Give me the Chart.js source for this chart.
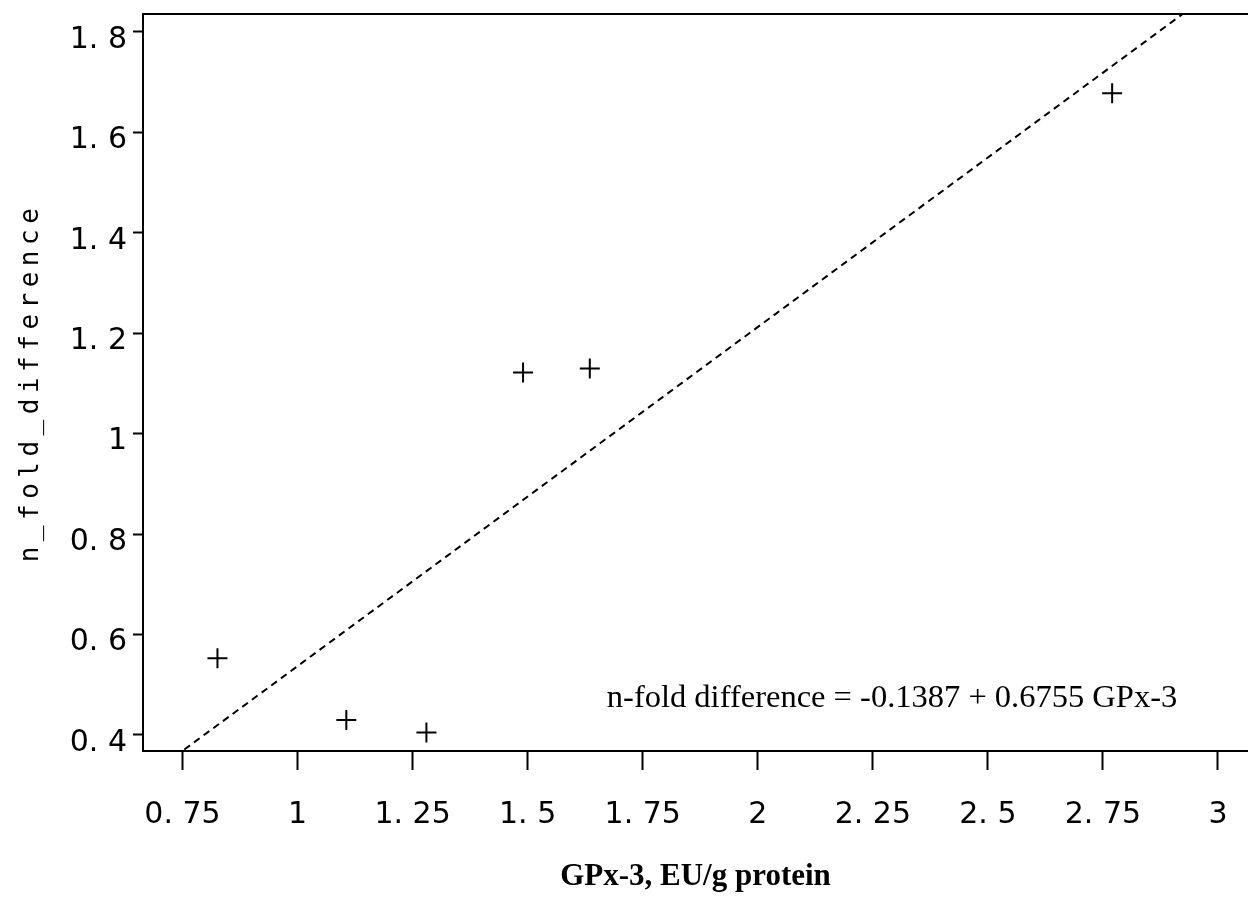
<!DOCTYPE html>
<html>
<head>
<meta charset="utf-8">
<script src="https://cdn.jsdelivr.net/npm/chart.js@4.4.1/dist/chart.umd.min.js"></script>
<style>
  body { margin: 0; background: #fff; }
  #wrap { width: 1248px; height: 897px; }
</style>
</head>
<body>
<div id="wrap"><canvas id="scatterChart"></canvas></div>
<script>
// data
const gpx3 = [0.826, 1.106, 1.280, 1.490, 1.635, 2.770];
const foldDiff = [0.553, 0.430, 0.405, 1.122, 1.130, 1.678];

// fitted line, end points as drawn
const fitX = [0.754, 2.922];
const fitY = [0.371, 1.835];

const xTickValues = [0.75, 1, 1.25, 1.5, 1.75, 2, 2.25, 2.5, 2.75, 3];
const xTickLabels = ["0. 75", "1", "1. 25", "1. 5", "1. 75", "2", "2. 25", "2. 5", "2. 75", "3"];
const yTickValues = [0.4, 0.6, 0.8, 1, 1.2, 1.4, 1.6, 1.8];
const yTickLabels = ["0. 4", "0. 6", "0. 8", "1", "1. 2", "1. 4", "1. 6", "1. 8"];

const yTitle = "n_fold_difference";
const xTitle = "GPx-3, EU/g protein";
const fitLabel = "n-fold difference = -0.1387 + 0.6755 GPx-3";
const fitLabelAt = [1.672, 0.456];

const tickFont = { family: "'DejaVu Sans', sans-serif", size: 30 };

// keep the plot box where the original has it, no extra room for labels
function noPadding(scale) {
    scale.paddingTop = 0;
    scale.paddingBottom = 0;
    scale.paddingLeft = 0;
    scale.paddingRight = 0;
}

// y title is letter spaced like the original, so draw it by hand
const yTitlePlugin = {
    id: "yTitle",
    afterDraw(chart) {
        const ctx = chart.ctx;
        const area = chart.chartArea;
        ctx.save();
        ctx.translate(31, (area.top + area.bottom) / 2);
        ctx.rotate(-Math.PI / 2);
        ctx.font = "26px 'DejaVu Sans Mono', monospace";
        ctx.letterSpacing = "5.5px";
        ctx.fillStyle = "#000";
        ctx.textAlign = "center";
        ctx.textBaseline = "middle";
        ctx.fillText(yTitle, 0, 0);
        ctx.restore();
    }
};

// equation text inside the plot
const fitLabelPlugin = {
    id: "fitLabel",
    afterDatasetsDraw(chart) {
        const ctx = chart.ctx;
        const x = chart.scales.x.getPixelForValue(fitLabelAt[0]);
        const y = chart.scales.y.getPixelForValue(fitLabelAt[1]);
        ctx.save();
        ctx.font = "32.5px 'Liberation Serif', 'Times New Roman', serif";
        ctx.fillStyle = "#000";
        ctx.textAlign = "left";
        ctx.textBaseline = "alphabetic";
        ctx.fillText(fitLabel, x, y);
        ctx.restore();
    }
};

const chartCanvas = document.getElementById("scatterChart");

new Chart(chartCanvas, {
    type: "scatter",
    data: {
        datasets: [
            {
                label: "observed",
                data: gpx3.map((v, i) => ({ x: v, y: foldDiff[i] })),
                pointStyle: "cross",
                pointRadius: 10,
                pointHoverRadius: 10,
                borderColor: "#000",
                backgroundColor: "#000",
                borderWidth: 2
            },
            {
                label: "fit",
                type: "line",
                data: fitX.map((v, i) => ({ x: v, y: fitY[i] })),
                borderColor: "#000",
                borderWidth: 2,
                borderDash: [7, 5],
                pointRadius: 0,
                fill: false
            }
        ]
    },
    options: {
        responsive: true,
        maintainAspectRatio: false,
        animation: false,
        layout: { autoPadding: false, padding: { top: 14, left: 0, right: 0, bottom: 0 } },
        plugins: {
            legend: { display: false },
            tooltip: { enabled: false }
        },
        scales: {
            x: {
                type: "linear",
                position: "bottom",
                min: 0.6642,
                max: 3.0652,
                afterBuildTicks: scale => { scale.ticks = xTickValues.map(v => ({ value: v })); },
                afterFit: scale => { scale.height = 146; noPadding(scale); },
                ticks: {
                    callback: (v, i) => xTickLabels[i],
                    font: tickFont,
                    color: "#000",
                    padding: 27,
                    maxRotation: 0
                },
                grid: {
                    drawOnChartArea: false,
                    drawTicks: true,
                    tickLength: 19,
                    tickWidth: 2,
                    tickColor: "#000"
                },
                border: { display: true, color: "#000", width: 2 },
                title: {
                    display: true,
                    text: xTitle,
                    color: "#000",
                    font: { family: "'Liberation Serif', 'Times New Roman', serif", size: 31, weight: "bold" },
                    padding: { top: 0, bottom: 1 }
                }
            },
            x2: {
                type: "linear",
                position: "top",
                min: 0.6642,
                max: 3.0652,
                afterFit: scale => { scale.height = 0; noPadding(scale); },
                ticks: { display: false },
                grid: { display: false, drawTicks: false },
                border: { display: true, color: "#000", width: 2 }
            },
            y: {
                type: "linear",
                min: 0.3681,
                max: 1.8358,
                afterBuildTicks: scale => { scale.ticks = yTickValues.map(v => ({ value: v })); },
                afterFit: scale => { scale.width = 143; noPadding(scale); },
                ticks: {
                    callback: (v, i) => yTickLabels[i],
                    font: tickFont,
                    color: "#000",
                    padding: 6,
                    labelOffset: 8
                },
                grid: {
                    drawOnChartArea: false,
                    drawTicks: true,
                    tickLength: 10,
                    tickWidth: 2,
                    tickColor: "#000"
                },
                border: { display: true, color: "#000", width: 2 }
            }
        }
    },
    plugins: [yTitlePlugin, fitLabelPlugin]
});
</script>
</body>
</html>
